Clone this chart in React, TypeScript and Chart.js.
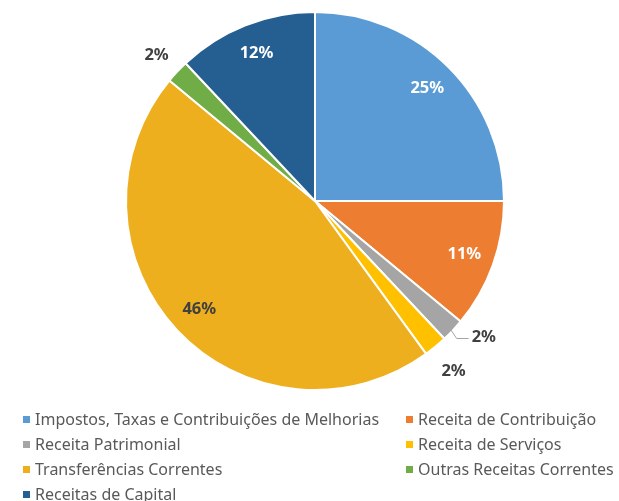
import React, { useEffect, useRef } from "react";
import { Chart, registerables } from "chart.js";

Chart.register(...registerables);

const categories = [
  "Impostos, Taxas e Contribuições de Melhorias",
  "Receita de Contribuição",
  "Receita Patrimonial",
  "Receita de Serviços",
  "Transferências Correntes",
  "Outras Receitas Correntes",
  "Receitas de Capital",
];
const values = [25, 11, 2, 2, 46, 2, 12];
const colors = ["#5B9BD5", "#ED7D31", "#A5A5A5", "#FFC000", "#EEAF1F", "#70AD47", "#255E91"];
// label placement: "in" = inside white, "inDark" = inside dark, "out" = outside, "lead" = outside with leader line
const labelModes = ["in", "in", "lead", "out", "inDark", "out", "in"];

const FONT = "'Noto Sans', sans-serif";

const labelPlugin = {
  id: "pieLabels",
  afterDatasetsDraw(chart: any) {
    const ctx = chart.ctx;
    const meta = chart.getDatasetMeta(0);
    const total = values.reduce((a, b) => a + b, 0);
    ctx.save();
    ctx.font = `bold 16.5px ${FONT}`;
    ctx.textAlign = "center";
    ctx.textBaseline = "middle";
    meta.data.forEach((arc: any, i: number) => {
      const { x, y, startAngle, endAngle, outerRadius } = arc.getProps(
        ["x", "y", "startAngle", "endAngle", "outerRadius"],
        true
      );
      const mid = (startAngle + endAngle) / 2;
      const pct = Math.round((values[i] / total) * 100) + "%";
      const mode = labelModes[i];
      if (mode === "in" || mode === "inDark") {
        const r = outerRadius * 0.84;
        ctx.fillStyle = mode === "in" ? "#FFFFFF" : "#404040";
        ctx.fillText(pct, x + Math.cos(mid) * r, y + Math.sin(mid) * r);
      } else if (mode === "out") {
        const r = outerRadius * 1.15;
        ctx.fillStyle = "#404040";
        ctx.fillText(pct, x + Math.cos(mid) * r, y + Math.sin(mid) * r + 3);
      } else {
        const r0 = outerRadius * 0.97;
        const p0x = x + Math.cos(mid) * r0;
        const p0y = y + Math.sin(mid) * r0;
        const p1x = p0x + 8;
        const p1y = p0y + 12;
        const p2x = p1x + 12;
        ctx.strokeStyle = "#A5A5A5";
        ctx.lineWidth = 1;
        ctx.beginPath();
        ctx.moveTo(p0x, p0y);
        ctx.lineTo(p1x, p1y);
        ctx.lineTo(p2x, p1y);
        ctx.stroke();
        ctx.fillStyle = "#404040";
        ctx.textAlign = "left";
        ctx.fillText(pct, p2x + 3, p1y - 1);
        ctx.textAlign = "center";
      }
    });
    ctx.restore();
  },
};

const legendPlugin = {
  id: "customLegend",
  afterDraw(chart: any) {
    const ctx = chart.ctx;
    ctx.save();
    ctx.font = `16px ${FONT}`;
    ctx.textBaseline = "middle";
    ctx.textAlign = "left";
    const colX = [23, 406];
    const rowY = [420, 445, 470, 495];
    categories.forEach((c, i) => {
      const col = i % 2;
      const row = Math.floor(i / 2);
      const x = colX[col];
      const y = rowY[row];
      ctx.fillStyle = colors[i];
      ctx.fillRect(x, y - 4, 7, 7);
      ctx.fillStyle = "#595959";
      ctx.fillText(c, x + 12, y);
    });
    ctx.restore();
  },
};

export default function App() {
  const ref = useRef<HTMLCanvasElement>(null);
  useEffect(() => {
    if (!ref.current) return;
    const chart = new Chart(ref.current, {
      type: "pie",
      data: {
        labels: categories,
        datasets: [
          {
            data: values,
            backgroundColor: colors,
            borderColor: "#FFFFFF",
            borderWidth: 2,
          },
        ],
      },
      options: {
        responsive: false,
        animation: false,
        layout: { padding: { left: 125, right: 114, top: 11, bottom: 110 } },
        plugins: {
          legend: { display: false },
          tooltip: { enabled: false },
        },
      },
      plugins: [labelPlugin, legendPlugin],
    });
    return () => chart.destroy();
  }, []);
  return (
    <div style={{ position: "fixed", left: 0, top: 0, width: 619, height: 501, background: "#fff" }}>
      <canvas ref={ref} width={619} height={501} />
    </div>
  );
}
